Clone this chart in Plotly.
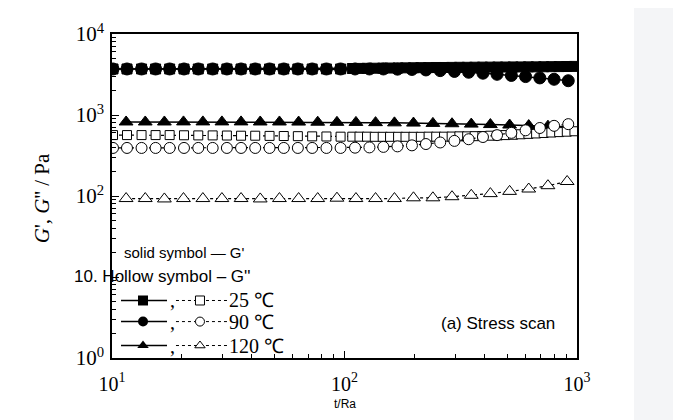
import plotly.graph_objects as go

# stress (t/Ra) sampling of each temperature run
x_25 = [10.1, 11.6, 13.4, 15.4, 17.7, 20.4, 23.5, 27.1, 31.2, 35.9, 41.3, 47.6, 54.8, 63.0,
        72.6, 83.6, 96.2, 108, 116, 125, 135, 146, 157, 170, 183, 198, 213, 230, 248, 268,
        289, 312, 337, 363, 392, 423, 456, 492, 531, 573, 618, 667, 719, 776, 838, 904, 975]
x_90 = [10.1, 11.6, 13.4, 15.4, 17.7, 20.4, 23.5, 27.1, 31.2, 35.9, 41.3, 47.6, 54.8, 63.0,
        72.6, 83.6, 96.2, 111, 128, 147, 169, 195, 224, 258, 297, 342, 394, 453, 522, 601,
        692, 797, 917]
x_120 = [11.5, 13.9, 16.8, 20.3, 24.6, 29.7, 35.9, 43.4, 52.5, 63.5, 76.7, 92.8, 112, 136,
         164, 198, 240, 290, 351, 424, 513, 620, 750, 907]

# G' (storage modulus, Pa)
g1_25 = [3700, 3700, 3700, 3700, 3700, 3700, 3700, 3700, 3700, 3700, 3700, 3700, 3700, 3700,
         3700, 3700, 3700, 3750, 3760, 3770, 3780, 3790, 3800, 3810, 3820, 3830, 3840, 3850,
         3860, 3860, 3870, 3880, 3880, 3890, 3900, 3900, 3910, 3910, 3920, 3920, 3930, 3930,
         3940, 3950, 3960, 3970, 3980]
g1_90 = [3700, 3700, 3700, 3700, 3700, 3700, 3700, 3700, 3700, 3700, 3700, 3700, 3700, 3700,
         3700, 3700, 3700, 3700, 3700, 3700, 3680, 3650, 3600, 3530, 3450, 3370, 3280, 3180,
         3080, 2980, 2870, 2760, 2650]
g1_120 = [820, 820, 820, 822, 822, 822, 822, 820, 820, 818, 815, 812, 810, 805, 800, 795, 788,
          780, 772, 762, 752, 740, 728, 715]

# G'' (loss modulus, Pa)
g2_25 = [565, 565, 565, 565, 565, 562, 560, 560, 558, 555, 555, 552, 550, 548, 545, 543, 540,
         540, 540, 540, 538, 538, 538, 538, 538, 538, 538, 540, 540, 540, 542, 545, 545, 548,
         550, 555, 560, 565, 570, 578, 585, 592, 600, 608, 615, 622, 630]
g2_90 = [392, 392, 392, 392, 392, 392, 392, 392, 392, 392, 392, 392, 392, 392, 392, 392, 392,
         395, 398, 404, 410, 422, 438, 458, 479, 502, 535, 564, 602, 647, 691, 735, 771]
g2_120 = [93, 93, 92, 93, 93, 93, 93, 92, 93, 93, 93, 94, 93, 93, 93, 95, 95, 98, 102, 107,
          114, 122, 134, 151]

temps = ["25 ℃", "90 ℃", "120 ℃"]
y_tickvals = [1, 10, 100, 1000, 10000]
y_ticktext = ["10<sup>0</sup>", "", "10<sup>2</sup>", "10<sup>3</sup>", "10<sup>4</sup>"]
x_tickvals = [10, 100, 1000]
x_ticktext = ["10<sup>1</sup>", "10<sup>2</sup>", "10<sup>3</sup>"]

SERIF = "Liberation Serif, Times New Roman, serif"
SANS = "Liberation Sans, Arial, sans-serif"

series = [
    (x_25, g1_25, "square", 10, True),
    (x_90, g1_90, "circle", 12, True),
    (x_120, g1_120, "triangle-up", 12, True),
    (x_25, g2_25, "square", 9, False),
    (x_90, g2_90, "circle", 11, False),
    (x_120, g2_120, "triangle-up", 12, False),
]

fig = go.Figure()

for xs, ys, sym, size, solid in series:
    fig.add_trace(go.Scatter(
        x=xs, y=ys, mode="lines+markers",
        line=dict(color="black", width=1.5 if solid else 1.2,
                  dash="solid" if solid else "3px,3px"),
        marker=dict(symbol=sym, size=size, color="black" if solid else "white",
                    line=dict(color="black", width=1)),
        showlegend=False, hoverinfo="skip",
    ))

# hand-drawn legend glyphs on a hidden overlay axis (0..1 over the plot area)
rows_y = [0.1775, 0.1124, 0.0385]
glyph_syms = ["square", "circle", "triangle-up"]
for ry, sym in zip(rows_y, glyph_syms):
    fig.add_trace(go.Scatter(
        x=[0.0194, 0.1183], y=[ry, ry], mode="lines", xaxis="x2", yaxis="y2",
        line=dict(color="black", width=1.5), showlegend=False, hoverinfo="skip"))
    fig.add_trace(go.Scatter(
        x=[0.0667], y=[ry], mode="markers", xaxis="x2", yaxis="y2",
        marker=dict(symbol=sym, size=10, color="black"), showlegend=False, hoverinfo="skip"))
    fig.add_trace(go.Scatter(
        x=[0.1376, 0.2473], y=[ry, ry], mode="lines", xaxis="x2", yaxis="y2",
        line=dict(color="black", width=1, dash="3px,3px"), showlegend=False, hoverinfo="skip"))
    fig.add_trace(go.Scatter(
        x=[0.1892], y=[ry], mode="markers", xaxis="x2", yaxis="y2",
        marker=dict(symbol=sym, size=9, color="white", line=dict(color="black", width=1)),
        showlegend=False, hoverinfo="skip"))

annotations = []
for ry, label in zip(rows_y, temps):
    annotations.append(dict(x=0.121, y=ry, xref="paper", yref="paper", text=",",
                            showarrow=False, xanchor="left", yanchor="middle",
                            font=dict(family=SERIF, size=20, color="black")))
    annotations.append(dict(x=0.250, y=ry, xref="paper", yref="paper", text=label,
                            showarrow=False, xanchor="left", yanchor="middle", borderpad=0,
                            font=dict(family=SERIF, size=20, color="black")))

annotations += [
    dict(x=0.0215, y=0.3254, xref="paper", yref="paper", text="solid symbol — G'",
         showarrow=False, xanchor="left", yanchor="middle",
         font=dict(family=SANS, size=15, color="black")),
    dict(x=-0.0853, y=0.2515, xref="paper", yref="paper", text="10. Hollow symbol – G''",
         showarrow=False, xanchor="left", yanchor="middle",
         font=dict(family=SANS, size=17, color="black")),
    dict(x=0.830, y=0.1074, xref="paper", yref="paper", text="(a) Stress scan",
         showarrow=False, xanchor="center", yanchor="middle",
         font=dict(family=SANS, size=17, color="black")),
    dict(x=0.5, y=-0.142, xref="paper", yref="paper", text="t/Ra",
         showarrow=False, xanchor="center", yanchor="middle",
         font=dict(family=SANS, size=12, color="black")),
    dict(x=-0.150, y=0.494, xref="paper", yref="paper", textangle=-90,
         text="<i>G</i>', <i>G</i>'' / Pa", showarrow=False,
         xanchor="center", yanchor="middle",
         font=dict(family=SERIF, size=21, color="black")),
]

# page body has an 8px margin, so the figure is sized and shifted to fit the window
fig.update_layout(
    width=673, height=412,
    margin=dict(l=104, r=104, t=12, b=62),
    plot_bgcolor="white", paper_bgcolor="white",
    xaxis=dict(
        type="log", range=[1, 3], tickvals=x_tickvals, ticktext=x_ticktext,
        ticks="inside", ticklen=7, tickwidth=1, tickcolor="black", ticklabelstandoff=7,
        ticklabeloverflow="allow",
        minor=dict(ticks="inside", ticklen=4, tickcolor="black", dtick="D1", showgrid=False),
        showline=True, linecolor="black", linewidth=1.5, mirror=True,
        showgrid=False, zeroline=False,
        tickfont=dict(family=SERIF, size=20, color="black"),
    ),
    yaxis=dict(
        type="log", range=[0, 4], tickvals=y_tickvals, ticktext=y_ticktext,
        ticks="inside", ticklen=7, tickwidth=1, tickcolor="black", ticklabelstandoff=2,
        ticklabeloverflow="allow",
        minor=dict(ticks="inside", ticklen=4, tickcolor="black", dtick="D1", showgrid=False),
        showline=True, linecolor="black", linewidth=1.5, mirror=True,
        showgrid=False, zeroline=False,
        tickfont=dict(family=SERIF, size=21, color="black"),
    ),
    xaxis2=dict(overlaying="x", range=[0, 1], visible=False, fixedrange=True),
    yaxis2=dict(overlaying="y", range=[0, 1], visible=False, fixedrange=True),
    annotations=annotations,
    shapes=[
        dict(type="rect", xref="paper", yref="paper", x0=1.1225, x1=1.25, y0=-0.2, y1=1.1,
             fillcolor="#f4f5f7", line=dict(width=0), layer="below"),
    ],
)

fig.write_html("out.html")
